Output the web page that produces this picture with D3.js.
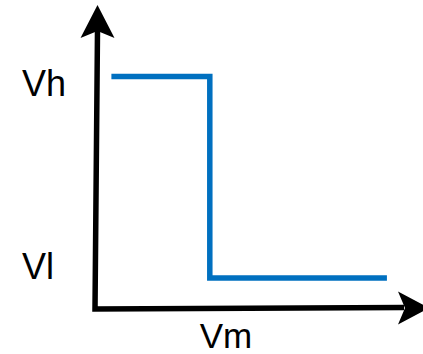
<!DOCTYPE html>
<html>
<head>
<meta charset="utf-8">
<script src="https://cdn.jsdelivr.net/npm/d3@7"></script>
<style>
  html, body { margin: 0; padding: 0; background: #fff; }
  svg { display: block; }
  text { font-family: "Liberation Sans", Arial, sans-serif; fill: #000; }
</style>
</head>
<body>
<script>
// ---- data ----
const vmValues   = [0.05, 0.35, 0.35, 0.89];   // input Vm (normalised)
const voutValues = [1, 1, 0, 0];               // output level (1 = Vh, 0 = Vl)
const tickLabels = ["Vh", "Vl"];
const tickValues = [0.97, 0.057];
const xAxisLabel = "Vm";

// ---- layout ----
const W = 423, H = 354;
const svg = d3.select("body").append("svg").attr("width", W).attr("height", H);

const x = d3.scaleLinear().domain([0, 1]).range([95, 423]);
const y = d3.scaleLinear().domain([0, 1]).range([278, 76.5]);

const axisY0 = 309;      // y of horizontal axis
const axisTop = 5;       // tip of vertical arrow
const axisRight = 429;   // tip of horizontal arrow

// axes lines
svg.append("path")
  .attr("d", `M97.5,${axisTop + 25} L95,${axisY0} L${axisRight - 25},307.5`)
  .attr("fill", "none").attr("stroke", "#000").attr("stroke-width", 5.5)
  .attr("stroke-linejoin", "miter").attr("stroke-linecap", "butt");

// arrow heads
svg.append("path")
  .attr("d", `M97.5,${axisTop} L114.5,38 L97.5,31 L80.5,38 Z`)
  .attr("fill", "#000");
svg.append("path")
  .attr("d", `M${axisRight},308 L398,291.5 L405,308 L398,324.5 Z`)
  .attr("fill", "#000");

// transfer curve
const pts = vmValues.map((v, i) => [x(v), y(voutValues[i])]);
svg.append("path")
  .attr("d", d3.line()(pts))
  .attr("fill", "none")
  .attr("stroke", "#0070C0")
  .attr("stroke-width", 5.5)
  .attr("stroke-linejoin", "miter");

// tick labels
svg.selectAll("text.tick")
  .data(tickLabels)
  .enter().append("text")
  .attr("class", "tick")
  .attr("x", 22)
  .attr("y", (d, i) => y(tickValues[i]))
  .attr("dy", "0.36em")
  .attr("font-size", 36)
  .text(d => d);

// x axis label
svg.append("text")
  .attr("x", 226)
  .attr("y", 348)
  .attr("text-anchor", "middle")
  .attr("font-size", 35)
  .text(xAxisLabel);
</script>
</body>
</html>
